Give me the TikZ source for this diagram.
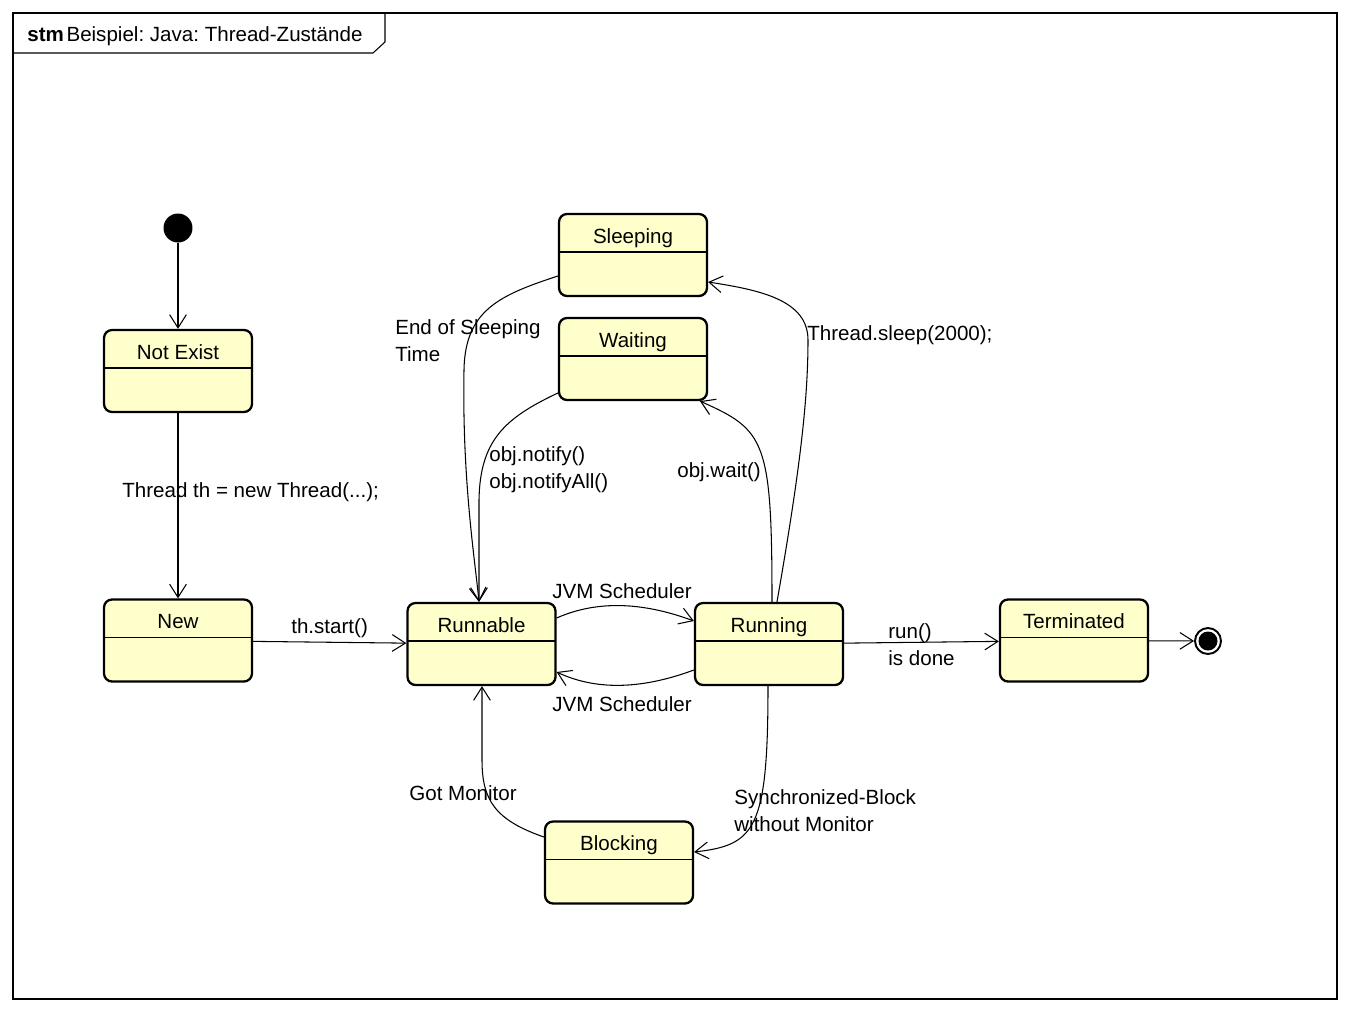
\documentclass[tikz,border=0pt]{standalone}
\usepackage{fontspec}
\setmainfont{Liberation Sans}
\usetikzlibrary{arrows.meta}
\definecolor{statefill}{RGB}{255,255,204}
\frenchspacing

\begin{document}
\begin{tikzpicture}[x=0.02cm, y=-0.02cm,
    font=\fontsize{11.7pt}{15.3pt}\selectfont,
    state/.style={draw, line width=1.3pt, fill=statefill, rounded corners=0.16cm,
        minimum width=2.96cm, minimum height=1.64cm, inner xsep=0pt, inner ysep=0pt,
        text height=0.58cm, text depth=1.06cm,
        path picture={\draw[line width=0.6pt]
            ([yshift=-0.76cm]path picture bounding box.north west) --
            ([yshift=-0.76cm]path picture bounding box.north east);}},
    startstate/.style={circle, fill=black, minimum size=0.58cm, inner sep=0pt},
    endstate/.style={circle, draw, line width=1.1pt, minimum size=0.52cm, inner sep=0pt,
        path picture={\fill (path picture bounding box.center) circle (0.19cm);}},
    trans/.style={line width=0.6pt, -{Straight Barb[length=7.5pt,width=9.5pt]}},
    lbl/.style={anchor=west, align=left, inner sep=0pt, yshift=-0.03cm}]
    \useasboundingbox (0,0) rectangle (1350,1012);

    % frame
    \draw[line width=0.6pt] (13,13) rectangle (1337,999);
    \draw[line width=0.6pt] (385,13) -- (385,42) -- (373,53) -- (13,53);
    \node[anchor=west, inner sep=0pt] (title) at (27,36)
        {\textbf{stm}\kern1.5pt Beispiel: Java: Thread-Zustände};

    % states
    \node[startstate] (start) at (178,228) {};
    \node[state] (notexist) at (178,371) {Not Exist};
    \node[state] (new) at (178,640.5) {New};
    \node[state] (runnable) at (481.5,644) {Runnable};
    \node[state] (running) at (769,644) {Running};
    \node[state] (terminated) at (1074,640.5) {Terminated};
    \node[state] (sleeping) at (633,255) {Sleeping};
    \node[state] (waiting) at (633,359) {Waiting};
    \node[state] (blocking) at (619,862.5) {Blocking};
    \node[endstate] (end) at (1208,641) {};

    % transitions
    \draw[trans] (start) -- (notexist);
    \draw[trans] (notexist) -- (new);
    \draw[trans] (new) -- (runnable);
    \draw[trans] (runnable.east |- 0,618) .. controls (595,601) and (640,601) .. (running.west |- 0,621);
    \draw[trans] (running.west |- 0,670) .. controls (640,690) and (595,690) .. (runnable.east |- 0,672);
    \draw[trans] (running) -- (terminated);
    \draw[trans] (terminated) -- (end);
    \draw[trans] (777,0 |- running.north) .. controls (800,470) and (808,400) .. (808,340)
        .. controls (808,300) and (760,290) .. (sleeping.east |- 0,282);
    \draw[trans] (772,0 |- running.north) .. controls (772,440) and (765,430) .. (700,0 |- waiting.south);
    \draw[trans] (sleeping.west |- 0,276) .. controls (500,295) and (465,310) .. (464,370)
        .. controls (462,480) and (475,560) .. (479,0 |- runnable.north);
    \draw[trans] (waiting.west |- 0,393) .. controls (505,418) and (480,440) .. (479,500)
        -- (479,0 |- runnable.north);
    \draw[trans] (blocking.west |- 0,837) .. controls (495,820) and (482,800) .. (482,760)
        -- (482,0 |- runnable.south);
    \draw[trans] (768,0 |- running.south) .. controls (768,830) and (755,845) .. (blocking.east |- 0,852);

    % labels
    \node[lbl] (lblcreate) at (122,491) {Thread th = new Thread(...);};
    \node[lbl] (lblstart) at (291,627) {th.start()};
    \node[lbl] (lblschedup) at (552,590) {JVM Scheduler};
    \node[lbl] (lblscheddown) at (552,703) {JVM Scheduler};
    \node[lbl] (lbldone) at (888,643.5) {run()\\is done};
    \node[lbl] (lblsleep) at (807,334) {Thread.sleep(2000);};
    \node[lbl] (lblwait) at (677,471) {obj.wait()};
    \node[lbl] (lblwake) at (395,339) {End of Sleeping\\Time};
    \node[lbl] (lblnotify) at (489,468.5) {obj.notify()\\obj.notifyAll()};
    \node[lbl] (lblmonitor) at (409,792) {Got Monitor};
    \node[lbl] (lblsync) at (734,809.5) {Synchronized-Block\\without Monitor};
\end{tikzpicture}
\end{document}
